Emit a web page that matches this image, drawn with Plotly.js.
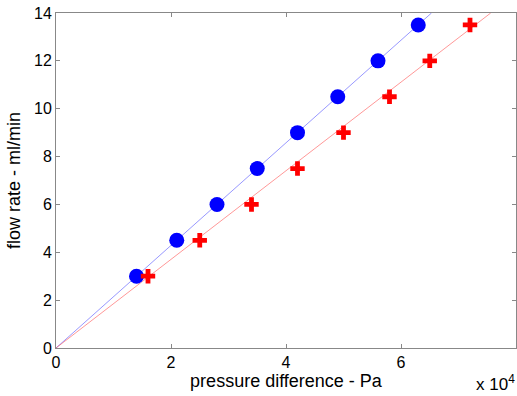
<!DOCTYPE html>
<html>
<head>
<meta charset="utf-8">
<script src="https://cdn.plot.ly/plotly-3.0.1.min.js"></script>
<style>html,body{margin:0;padding:0;background:#fff;}#chart{width:517px;height:396px;}</style>
</head>
<body>
<div id="chart"></div>
<script>
// Measured data (pressure difference in Pa, flow rate in ml/min)
const blueX = [14000, 21000, 28000, 35000, 42000, 49000, 56000, 63000];
const blueY = [3, 4.5, 6, 7.5, 9, 10.5, 12, 13.5];
const redX = [16000, 25000, 34000, 42000, 50000, 58000, 65000, 72000];
const redY = [3, 4.5, 6, 7.5, 9, 10.5, 12, 13.5];
// Fitted lines through origin (end points)
const blueFitX = [0, 65300];
const blueFitY = [0, 14];
const redFitX = [0, 75600];
const redFitY = [0, 14];
// Tick labels
const xTickVals = [0, 20000, 40000, 60000, 80000];
const xTickText = ['0', '2', '4', '6', '8'];
const yTickVals = [0, 2, 4, 6, 8, 10, 12, 14];

const fam = 'Liberation Sans, Arial, sans-serif';
const tickFont = {family: fam, size: 16, color: '#000'};
const titleFont = {family: fam, size: 18, color: '#000'};
const expFont = {family: fam, size: 17, color: '#000'};
const traces = [
  {x: blueFitX, y: blueFitY, mode: 'lines', line: {color: 'rgba(70,70,255,0.7)', width: 0.8}, hoverinfo: 'skip'},
  {x: redFitX, y: redFitY, mode: 'lines', line: {color: 'rgba(255,70,70,0.7)', width: 0.8}, hoverinfo: 'skip'},
  {x: blueX, y: blueY, mode: 'markers', marker: {symbol: 'circle', size: 15, color: '#0000ff', line: {width: 0}}},
  {x: redX, y: redY, mode: 'markers', marker: {symbol: 'cross', size: 12, color: '#ff0000', line: {width: 0}}}
];
const layout = {
  width: 517, height: 396,
  margin: {l: 56, r: 1, t: 13, b: 48},
  showlegend: false,
  paper_bgcolor: '#fff', plot_bgcolor: '#fff',
  font: tickFont,
  xaxis: {
    range: [0, 80000], tickvals: xTickVals, ticktext: xTickText,
    showgrid: false, zeroline: false, showline: true, linecolor: '#888', linewidth: 1,
    mirror: 'ticks', ticks: 'inside', ticklen: 4, tickcolor: '#888',
    tickfont: tickFont,
    title: {text: 'pressure difference - Pa', font: titleFont, standoff: 0}
  },
  yaxis: {
    range: [0, 14], tickvals: yTickVals,
    showgrid: false, zeroline: false, showline: true, linecolor: '#888', linewidth: 1,
    mirror: 'ticks', ticks: 'inside', ticklen: 4, tickcolor: '#888',
    tickfont: tickFont,
    title: {text: 'flow rate - ml/min', font: titleFont, standoff: 8}
  },
  annotations: [{
    xref: 'paper', yref: 'paper', x: 1, y: 0, xanchor: 'right', yanchor: 'bottom', yshift: -47,
    borderpad: 0, text: 'x 10<sup>4</sup>', showarrow: false, font: expFont
  }]
};
Plotly.newPlot('chart', traces, layout, {staticPlot: true, displayModeBar: false});
</script>
</body>
</html>
